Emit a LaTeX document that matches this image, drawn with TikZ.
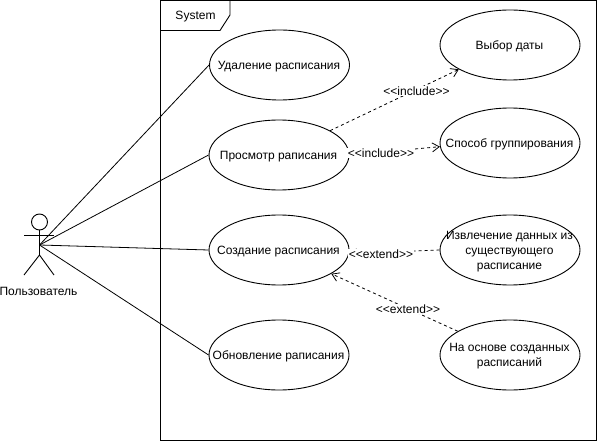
\documentclass[tikz,border=0pt]{standalone}
\usepackage{fontspec}
\setmainfont{Liberation Sans}
\usetikzlibrary{shapes.geometric,arrows.meta}
\tikzset{
  usecase/.style={ellipse,draw=black,line width=0.9pt,fill=white,minimum width=140pt,minimum height=70pt,inner sep=0pt,label={[align=center,font=\fontsize{12}{15}\selectfont,inner sep=0pt,yshift=-1.5pt,xshift=-0.5pt]center:#1}},
  assoc/.style={draw=black,line width=0.8pt},
  dep/.style={draw=black,line width=0.8pt,dash pattern=on 3pt off 3pt,-{Straight Barb[length=7pt,width=9pt,line width=0.8pt]}},
  deplabel/.style={font=\fontsize{12}{14}\selectfont,fill=white,inner xsep=0.5pt,inner ysep=1pt},
  txt/.style={font=\fontsize{12}{14}\selectfont,inner sep=0pt},
  shapeline/.style={draw=black,line width=0.9pt}
}
\begin{document}
\begin{tikzpicture}[x=1pt,y=-1pt]
\useasboundingbox (0,0) rectangle (600,441);
% frame
\draw[shapeline] (160,0.5) rectangle (596,440.5);
\draw[shapeline] (160,30.5) -- (220,30.5) -- (230,15) -- (230,0.5);
\node[txt] (sys) at (195.5,17) {System};
% use cases
\node[usecase={Удаление расписания}] (del) at (279.5,65) {};
\node[usecase={Просмотр раписания}] (view) at (279,155) {};
\node[usecase={Создание расписания}] (make) at (279,250) {};
\node[usecase={Обновление раписания}] (upd) at (279,355) {};
\node[usecase={Выбор даты}] (date) at (510,45) {};
\node[usecase={Способ группирования}] (group) at (510,143) {};
\node[usecase={Извлечение данных из\\существующего\\расписание}] (extr) at (510,250) {};
\node[usecase={На основе созданных\\расписаний}] (base) at (510,355) {};
% actor
\coordinate (hip) at (39.5,255);
\coordinate (arml) at (24,235);
\coordinate (armr) at (54,235);
\coordinate (footl) at (24,275);
\coordinate (footr) at (54,275);
\coordinate (hub) at (39.5,245);
\node[circle,draw=black,line width=0.9pt,minimum size=16pt,inner sep=0pt] (head) at (39.5,222) {};
\draw[shapeline] (head.south) -- (hip);
\draw[shapeline] (arml) -- (armr);
\draw[shapeline] (footl) -- (hip) -- (footr);
\node[txt] (user) at (38.5,291) {Пользователь};
% associations
\draw[assoc] (hub) -- (del.west);
\draw[assoc] (hub) -- (view.west);
\draw[assoc] (hub) -- (make.west);
\draw[assoc] (hub) -- (upd.west);
% dependencies
\draw[dep] (view) -- (date);
\node[deplabel] (l1) at (416.5,91) {{<}{<}include{>}{>}};
\draw[dep] (view.east) -- (group.183);
\node[deplabel] (l2) at (381,153) {{<}{<}include{>}{>}};
\draw[dep] (extr.west) -- (make.-3);
\node[deplabel] (l3) at (381,254) {{<}{<}extend{>}{>}};
\draw[dep] (base) -- (make);
\node[deplabel] (l4) at (408,309) {{<}{<}extend{>}{>}};
\end{tikzpicture}
\end{document}
